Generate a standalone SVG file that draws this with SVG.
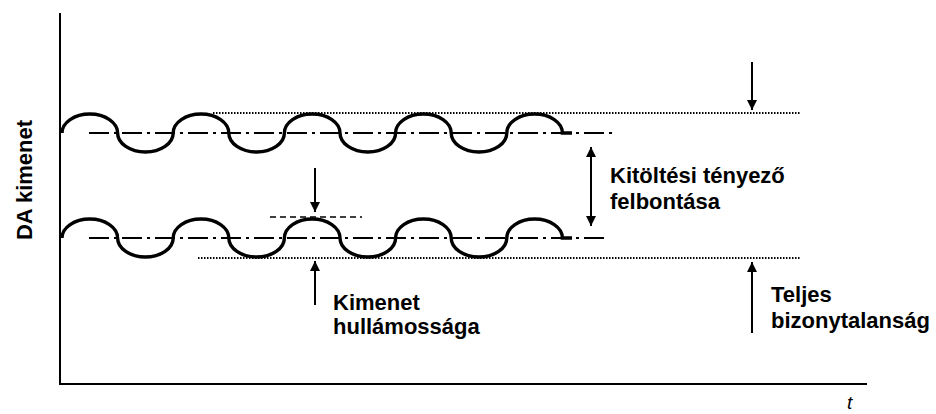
<svg xmlns="http://www.w3.org/2000/svg" width="936" height="414" viewBox="0 0 936 414">
  <style>
    .axis { stroke: #000; stroke-width: 2; fill: none; }
    .wave { stroke: #000; stroke-width: 3.4; fill: none; }
    .dashdot { stroke: #000; stroke-width: 2; stroke-dasharray: 20 5 3 5; fill: none; }
    .dotted { stroke: #000; stroke-width: 2; stroke-dasharray: 1.5 1.5; fill: none; }
    .dashed { stroke: #000; stroke-width: 1.5; stroke-dasharray: 6 4; fill: none; }
    .arrow { stroke: #000; stroke-width: 2; fill: none; }
    .label { font-family: "Liberation Sans", Arial, sans-serif; font-weight: bold; font-size: 22px; fill: #000; }
    .axislabel { font-family: "Liberation Sans", Arial, sans-serif; font-weight: bold; font-size: 22px; fill: #000; }
    .tlabel { font-family: "Liberation Sans", Arial, sans-serif; font-style: italic; font-size: 19px; fill: #000; }
  </style>
  <defs>
    <marker id="head" viewBox="0 0 10 10" refX="10" refY="5" markerWidth="11" markerHeight="10" markerUnits="userSpaceOnUse" orient="auto-start-reverse">
      <path d="M0,0 L10,5 L0,10 Z" fill="#000"/>
    </marker>
    <!-- one output trace: alternating half-ellipse humps around y=0 -->
    <path id="trace" d="M62,0 A27.8,19 0 0 1 117.6,0 A27.8,19 0 0 0 173.2,0 A27.8,19 0 0 1 228.8,0 A27.8,19 0 0 0 284.4,0 A27.8,19 0 0 1 340,0 A27.8,19 0 0 0 395.6,0 A27.8,19 0 0 1 451.2,0 A27.8,19 0 0 0 506.8,0 A27.8,19 0 0 1 562.4,0 L572,0"/>
  </defs>

  <!-- axes -->
  <g id="axes">
    <path class="axis" d="M60,13 L60,384 L867,384"/>
    <text class="axislabel" transform="translate(32,180) rotate(-90)" text-anchor="middle">DA kimenet</text>
    <text class="tlabel" x="847" y="409">t</text>
  </g>

  <!-- upper output level -->
  <g id="upper-level">
    <line class="dotted" x1="213" y1="113" x2="800" y2="113"/>
    <line class="dashdot" x1="89" y1="133" x2="616" y2="133"/>
    <use href="#trace" class="wave" transform="translate(0,133)"/>
  </g>

  <!-- lower output level -->
  <g id="lower-level">
    <line class="dotted" x1="198" y1="258" x2="800" y2="258"/>
    <line class="dashdot" x1="89" y1="238" x2="608" y2="238"/>
    <use href="#trace" class="wave" transform="translate(0,238)"/>
    <line class="dashed" x1="270" y1="217" x2="362" y2="217"/>
  </g>

  <!-- dimension arrows -->
  <g id="connectors">
    <line class="arrow" x1="315" y1="168" x2="315" y2="212" marker-end="url(#head)"/>
    <line class="arrow" x1="315" y1="305" x2="315" y2="261" marker-end="url(#head)"/>
    <line class="arrow" x1="591" y1="147" x2="591" y2="226" marker-start="url(#head)" marker-end="url(#head)"/>
    <line class="arrow" x1="752" y1="62" x2="752" y2="110" marker-end="url(#head)"/>
    <line class="arrow" x1="752" y1="333" x2="752" y2="262" marker-end="url(#head)"/>
  </g>

  <!-- labels -->
  <g id="label-resolution">
    <text class="label" x="610" y="183">Kitöltési tényező</text>
    <text class="label" x="610" y="209">felbontása</text>
  </g>
  <g id="label-ripple">
    <text class="label" x="333" y="310">Kimenet</text>
    <text class="label" x="333" y="334">hullámossága</text>
  </g>
  <g id="label-total">
    <text class="label" x="771" y="302">Teljes</text>
    <text class="label" x="771" y="328">bizonytalanság</text>
  </g>
</svg>
